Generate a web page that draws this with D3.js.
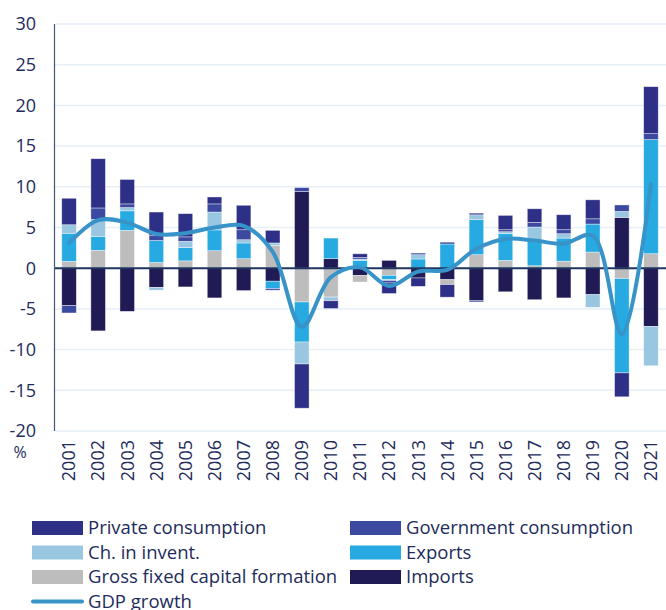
<!DOCTYPE html>
<html>
<head>
<meta charset="utf-8">
<script src="https://cdn.jsdelivr.net/npm/d3@7"></script>
<style>
  body { margin: 0; background: #fff; }
  text { font-family: "Open Sans", sans-serif; fill: #222b5b; }
</style>
</head>
<body>
<div id="chart"></div>
<script>
var width = 666,
  height = 610;

// contributions to GDP growth, p.p.
var years = ["2001", "2002", "2003", "2004", "2005", "2006", "2007", "2008", "2009", "2010",
  "2011", "2012", "2013", "2014", "2015", "2016", "2017", "2018", "2019", "2020", "2021"];
var privateCons = [3.25, 6.05, 3.0, 2.9, 2.85, 0.85, 3.0, 1.55, -5.43, -0.95,
  0.45, -1.3, -1.03, -1.55, 0.2, 1.76, 1.67, 1.84, 2.33, -2.94, 5.77];
var govCons = [-0.9, 1.4, 0.45, 0.6, 0.55, 1.0, 1.23, -0.2, 0.47, -0.05,
  0.2, -0.3, 0.2, 0.23, -0.15, 0.25, 0.57, 0.49, 0.65, 0.79, 0.73];
var invent = [1.05, 2.1, 0.4, -0.35, 0.75, 2.2, 0.4, 0.3, -2.7, -0.4,
  0.15, -0.1, 0.53, 0, 0.6, 0.24, 1.56, 0.54, -1.56, 0.74, -4.83];
var exportsC = [3.45, 1.7, 2.4, 2.7, 1.65, 2.55, 1.93, -0.9, -4.92, 2.53,
  0.97, -0.53, 1.13, 2.97, 4.3, 3.28, 3.2, 2.84, 3.44, -11.59, 14.02];
var gfcf = [0.84, 2.2, 4.65, 0.7, 0.9, 2.15, 1.17, 2.8, -4.15, -3.55,
  -0.82, -0.88, 0, -0.6, 1.66, 0.96, 0.3, 0.86, 1.98, -1.27, 1.78];
var importsC = [-4.6, -7.7, -5.3, -2.35, -2.3, -3.65, -2.75, -1.6, 9.43, 1.17,
  -0.88, 0.96, -1.2, -1.41, -4.0, -2.9, -3.87, -3.65, -3.25, 6.24, -7.15];
var gdp = [3.1, 5.9, 5.6, 4.2, 4.3, 5.0, 5.2, 2.0, -7.2, -1.1,
  0.1, -2.2, -0.4, -0.2, 2.4, 3.6, 3.4, 3.0, 4.0, -8.1, 10.3];
var yTicks = [30, 25, 20, 15, 10, 5, 0, -5, -10, -15, -20];

// stacking order from zero outwards
var keys = ["imp", "gfcf", "exp", "inv", "gov", "priv"];
var colors = {
  priv: "#2e3088", gov: "#3b4aa0", inv: "#99c7e1",
  exp: "#27aae1", gfcf: "#bdbdbd", imp: "#201a55"
};
var labels = {
  priv: "Private consumption", gov: "Government consumption", inv: "Ch. in invent.",
  exp: "Exports", gfcf: "Gross fixed capital formation", imp: "Imports"
};

var table = years.map(function (y, i) {
  return { year: y, priv: privateCons[i], gov: govCons[i], inv: invent[i],
    exp: exportsC[i], gfcf: gfcf[i], imp: importsC[i], gdp: gdp[i] };
});

var svg = d3.select("#chart").append("svg")
  .attr("width", width)
  .attr("height", height);

var x = d3.scaleBand().domain(years).range([54.5, 665.5])
  .paddingInner(0.5).paddingOuter(0.25);
var y = d3.scaleLinear().domain([-20, 30]).range([431, 24]);

// gridlines
svg.append("g").selectAll("line")
  .data(yTicks.filter(function (d) { return d !== 0; }))
  .enter().append("line")
  .attr("x1", 55).attr("x2", 666)
  .attr("y1", function (d) { return y(d); })
  .attr("y2", function (d) { return y(d); })
  .attr("stroke", "#e6eef8")
  .attr("stroke-width", 1.5);

// y tick labels
svg.append("g").selectAll("text")
  .data(yTicks)
  .enter().append("text")
  .attr("x", 36)
  .attr("y", function (d) { return y(d); })
  .attr("dy", "0.35em")
  .attr("text-anchor", "end")
  .style("font-size", "18px")
  .text(function (d) { return d; });

svg.append("text")
  .attr("x", 20).attr("y", 458)
  .attr("text-anchor", "middle")
  .style("font-size", "16px")
  .text("%");

// y axis line
svg.append("line")
  .attr("x1", 54.5).attr("x2", 54.5)
  .attr("y1", y(30)).attr("y2", y(-20))
  .attr("stroke", "#4a5878")
  .attr("stroke-width", 1.2);

// stacked bars
var series = d3.stack().keys(keys).offset(d3.stackOffsetDiverging)(table);

svg.append("g").selectAll("g")
  .data(series)
  .enter().append("g")
  .attr("fill", function (d) { return colors[d.key]; })
  .selectAll("rect")
  .data(function (d) { return d; })
  .enter().append("rect")
  .attr("x", function (d) { return x(d.data.year); })
  .attr("width", x.bandwidth())
  .attr("y", function (d) { return y(Math.max(d[0], d[1])); })
  .attr("height", function (d) { return Math.abs(y(d[0]) - y(d[1])); })
  .attr("stroke", "rgba(255,255,255,0.55)")
  .attr("stroke-width", 0.7);

// zero line
svg.append("line")
  .attr("x1", 55).attr("x2", 666)
  .attr("y1", y(0)).attr("y2", y(0))
  .attr("stroke", "#1f3560")
  .attr("stroke-width", 2);

// GDP growth line
var line = d3.line()
  .x(function (d) { return x(d.year) + x.bandwidth() / 2; })
  .y(function (d) { return y(d.gdp); })
  .curve(d3.curveCatmullRom.alpha(0.5));

svg.append("path")
  .datum(table)
  .attr("d", line)
  .attr("fill", "none")
  .attr("stroke", "#3793c8")
  .attr("stroke-width", 4)
  .attr("stroke-linecap", "round");

// x labels
svg.append("g").selectAll("text")
  .data(years)
  .enter().append("text")
  .attr("transform", function (d) {
    return "translate(" + (x(d) + x.bandwidth() / 2) + ",440) rotate(-90)";
  })
  .attr("dy", "0.35em")
  .attr("text-anchor", "end")
  .style("font-size", "18px")
  .text(function (d) { return d; });

// legend
var legendItems = ["priv", "gov", "inv", "exp", "gfcf", "imp"];
var legend = svg.append("g").selectAll("g")
  .data(legendItems)
  .enter().append("g")
  .attr("transform", function (d, i) {
    return "translate(" + (i % 2 === 0 ? 32 : 350) + "," + (528 + Math.floor(i / 2) * 24.5) + ")";
  });
legend.append("rect")
  .attr("x", 0).attr("y", -7)
  .attr("width", 51).attr("height", 14)
  .attr("fill", function (d) { return colors[d]; });
legend.append("text")
  .attr("x", 56).attr("dy", "0.35em")
  .style("font-size", "18.5px")
  .text(function (d) { return labels[d]; });

var gl = svg.append("g").attr("transform", "translate(32,601.5)");
gl.append("line")
  .attr("x1", 1).attr("x2", 50)
  .attr("stroke", "#3793c8")
  .attr("stroke-width", 4)
  .attr("stroke-linecap", "round");
gl.append("text")
  .attr("x", 56).attr("dy", "0.35em")
  .style("font-size", "18.5px")
  .text("GDP growth");
</script>
</body>
</html>
